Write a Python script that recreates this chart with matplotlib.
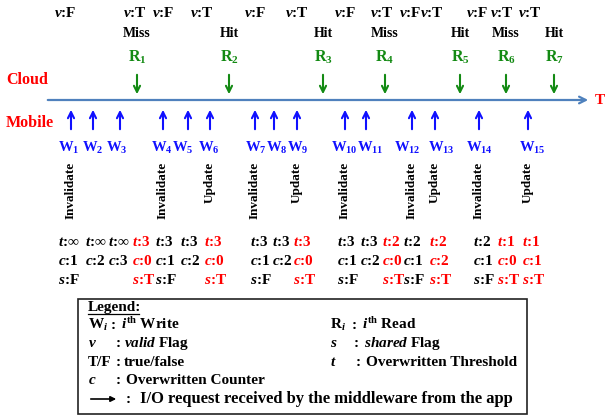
import matplotlib
matplotlib.use('Agg')
import matplotlib.pyplot as plt

plt.rcParams['font.family'] = ['Liberation Serif', 'DejaVu Serif']
plt.rcParams['font.weight'] = 'bold'
plt.rcParams['mathtext.fontset'] = 'custom'
plt.rcParams['mathtext.rm'] = 'Liberation Serif:bold'
plt.rcParams['mathtext.bf'] = 'Liberation Serif:bold'
plt.rcParams['mathtext.it'] = 'Liberation Serif:italic:bold'

# time positions along the axis (pixels of the 606x417 picture)
write_times = [71, 93, 120, 163, 188, 210, 255, 274, 297, 345, 366, 412, 435, 479, 528]
write_label_x = [69, 93, 117, 162, 183, 209, 256, 277, 298, 344, 370, 407, 441, 479, 532]
write_ops = ['Invalidate', '', '', 'Invalidate', '', 'Update', 'Invalidate', '', 'Update',
             'Invalidate', '', 'Invalidate', 'Update', 'Invalidate', 'Update']
read_times = [137, 229, 323, 385, 460, 506, 554]
read_result = ['Miss', 'Hit', 'Hit', 'Miss', 'Hit', 'Miss', 'Hit']

valid_times = [65, 135, 163, 202, 255, 297, 345, 382, 410, 432, 477, 502, 530]
valid_flags = ['F', 'T', 'F', 'T', 'F', 'T', 'F', 'T', 'F', 'T', 'F', 'T', 'T']

state_times = [58, 85, 108, 132, 155, 180, 204, 250, 272, 293, 337, 360, 382, 403, 429, 473, 497, 522]
thresholds = ['∞', '∞', '∞', '3', '3', '3', '3', '3', '3', '3', '3', '3', '2', '2', '2', '2', '1', '1']
counters = ['1', '2', '3', '0', '1', '2', '0', '1', '2', '0', '1', '2', '0', '1', '2', '1', '0', '1']
shared = ['F', '', '', 'T', 'F', '', 'T', 'F', '', 'T', 'F', '', 'T', 'F', 'T', 'F', 'T', 'T']
changed = [0, 0, 0, 1, 0, 0, 1, 0, 0, 1, 0, 0, 1, 0, 1, 0, 1, 1]

BLUE = '#1010ff'
GREEN = '#138a13'
RED = '#ff0000'
AXIS = '#4f81bd'

fig = plt.figure(figsize=(6.06, 4.17), dpi=100)
ax = fig.add_axes([0, 0, 1, 1])
ax.set_xlim(0, 606)
ax.set_ylim(417, 0)
ax.axis('off')

# time axis
ax.annotate('', xy=(591, 100), xytext=(45, 100),
            arrowprops=dict(arrowstyle='->', color=AXIS, lw=1.6, mutation_scale=12))
ax.text(595, 100, 'T', color=RED, fontsize=11, ha='left', va='center')
ax.text(6, 80, 'Cloud', color=RED, fontsize=11.5, ha='left', va='center')
ax.text(6, 123, 'Mobile', color=RED, fontsize=11.5, ha='left', va='center')

# writes
for i, (x, lx, op) in enumerate(zip(write_times, write_label_x, write_ops)):
    ax.annotate('', xy=(x, 107), xytext=(x, 132),
                arrowprops=dict(arrowstyle='->', color=BLUE, lw=1.5, mutation_scale=11))
    ax.text(lx, 148, 'W$_{%d}$' % (i + 1), color=BLUE, fontsize=10.5, ha='center', va='center')
    if op:
        ax.text(x, 162, op, rotation=90, fontsize=9.5, ha='center', va='top')

# reads
for i, (x, res) in enumerate(zip(read_times, read_result)):
    ax.annotate('', xy=(x, 97), xytext=(x, 72),
                arrowprops=dict(arrowstyle='->', color=GREEN, lw=1.5, mutation_scale=11))
    ax.text(x, 57, 'R$_{%d}$' % (i + 1), color=GREEN, fontsize=11.5, ha='center', va='center')
    ax.text(x, 33, res, fontsize=10, ha='center', va='center')

# valid flags
for x, f in zip(valid_times, valid_flags):
    ax.text(x, 13, r'$\mathit{v}$:' + f, fontsize=11, ha='center', va='center')

# t / c / s states
for x, th, cn, sh, ch in zip(state_times, thresholds, counters, shared, changed):
    col = RED if ch else 'black'
    ax.text(x, 246, r'$\mathit{t}$:' + th, color=col, fontsize=11, ha='left', va='baseline')
    ax.text(x, 265, r'$\mathit{c}$:' + cn, color=col, fontsize=11, ha='left', va='baseline')
    if sh:
        ax.text(x, 284, r'$\mathit{s}$:' + sh, color=col, fontsize=11, ha='left', va='baseline')

# legend box
ax.add_patch(plt.Rectangle((78, 299), 449, 115, fill=False, lw=1.2, ec='#222222'))
fs = 11
ax.text(88, 311, 'Legend:', fontsize=fs, va='baseline')
ax.plot([88, 139], [313.5, 313.5], color='black', lw=0.9)
rows = [329, 347, 366, 384, 403]
ax.text(88, rows[0], r'W$_{\mathit{i}}$', fontsize=fs, va='baseline')
ax.text(111, rows[0], ':', fontsize=fs, va='baseline')
ax.text(121, rows[0], r'$\mathit{i}^{\mathrm{th}}$ Write', fontsize=fs, va='baseline')
ax.text(88, rows[1], r'$\mathit{v}$', fontsize=fs, va='baseline')
ax.text(116, rows[1], ':', fontsize=fs, va='baseline')
ax.text(124, rows[1], r'$\mathit{valid}$ Flag', fontsize=fs, va='baseline')
ax.text(88, rows[2], 'T/F', fontsize=fs, va='baseline')
ax.text(116, rows[2], ':', fontsize=fs, va='baseline')
ax.text(124, rows[2], 'true/false', fontsize=fs, va='baseline')
ax.text(88, rows[3], r'$\mathit{c}$', fontsize=fs, va='baseline')
ax.text(116, rows[3], ':', fontsize=fs, va='baseline')
ax.text(126, rows[3], 'Overwritten Counter', fontsize=fs, va='baseline')
ax.annotate('', xy=(119, rows[4] - 4), xytext=(88, rows[4] - 4),
            arrowprops=dict(arrowstyle='-|>', color='black', lw=1.2, mutation_scale=8))
ax.text(126, rows[4], ':', fontsize=fs, va='baseline')
ax.text(140, rows[4], 'I/O request received by the middleware from the app',
        fontsize=11.9, va='baseline')

ax.text(330, rows[0], r'R$_{\mathit{i}}$', fontsize=fs, va='baseline')
ax.text(352, rows[0], ':', fontsize=fs, va='baseline')
ax.text(362, rows[0], r'$\mathit{i}^{\mathrm{th}}$ Read', fontsize=fs, va='baseline')
ax.text(330, rows[1], r'$\mathit{s}$', fontsize=fs, va='baseline')
ax.text(354, rows[1], ':', fontsize=fs, va='baseline')
ax.text(364, rows[1], r'$\mathit{shared}$ Flag', fontsize=fs, va='baseline')
ax.text(330, rows[2], r'$\mathit{t}$', fontsize=fs, va='baseline')
ax.text(356, rows[2], ':', fontsize=fs, va='baseline')
ax.text(366, rows[2], 'Overwritten Threshold', fontsize=fs, va='baseline')

fig.savefig('out.png', dpi=100)
